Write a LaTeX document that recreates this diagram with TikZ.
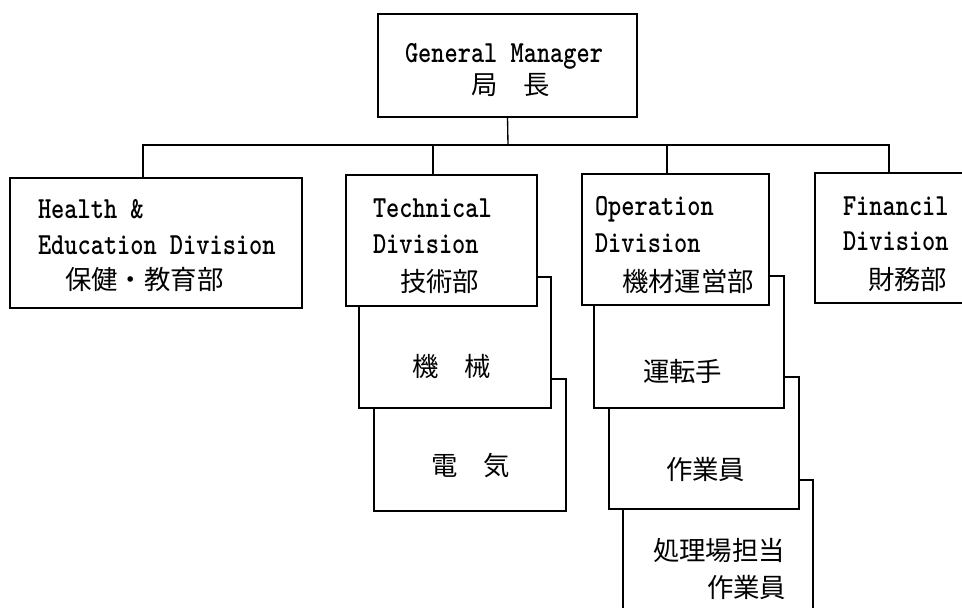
\documentclass[tikz,border=0pt]{standalone}
\usepackage{fontspec}
\usepackage{graphicx}
\usetikzlibrary{calc}
\newfontfamily\cjk{Noto Sans CJK JP}
\newlength\pxu \setlength\pxu{0.75pt}
% box content: width, height (px), lines
\newcommand\tbox[3]{\vbox to #2\pxu{\offinterlineskip\hbox to #1\pxu{\hfil}#3\vss}}
% one line: x offset, baseline offset from top (px), text
\newcommand\tline[3]{\vbox to 0pt{\kern#2\pxu\hbox to 0pt{\kern#1\pxu\smash{#3}\hss}\vss}}
\newcommand\latn[1]{\scalebox{0.82}[1]{\fontsize{23pt}{23pt}\selectfont\ttfamily\bfseries #1}}
\newcommand\jp[1]{{\fontsize{19.8pt}{19.8pt}\selectfont\cjk #1}}
\tikzset{
  orgbox/.style={draw=black, line width=1pt, fill=white, inner sep=0pt, outer sep=0pt, anchor=north west},
  wire/.style={draw=black, line width=1pt}
}
\begin{document}
\begin{tikzpicture}[x=0.75pt, y=-0.75pt]
\path[use as bounding box, clip] (0,0) rectangle (962,607);
\fill[white] (0,0) rectangle (962,607);

% top
\node[orgbox] (gm) at (378,14) {\tbox{259}{103}{\tline{27}{48}{\latn{General Manager}}\tline{93}{80}{\jp{局　長}}}};

% divisions
\node[orgbox] (health) at (10,178) {\tbox{292}{130}{\tline{28}{40}{\latn{Health \&}}\tline{28}{76}{\latn{Education Division}}\tline{55}{111}{\jp{保健・教育部}}}};

% technical stack (back to front)
\node[orgbox] (elec) at (374,379) {\tbox{192}{132}{\tline{57}{96}{\jp{電　気}}}};
\node[orgbox] (mech) at (359,277) {\tbox{192}{131}{\tline{53}{99}{\jp{機　械}}}};
\node[orgbox] (tech) at (346,175) {\tbox{191}{131}{\tline{27}{42}{\latn{Technical}}\tline{27}{78}{\latn{Division}}\tline{54}{116}{\jp{技術部}}}};

% operation stack (back to front)
\node[orgbox] (plant) at (623,480) {\tbox{190}{150}{\tline{30}{80}{\jp{処理場担当}}\tline{84}{117}{\jp{作業員}}}};
\node[orgbox] (worker) at (609,377) {\tbox{190}{132}{\tline{57}{102}{\jp{作業員}}}};
\node[orgbox] (driver) at (594,276) {\tbox{190}{132}{\tline{49}{105}{\jp{運転手}}}};
\node[orgbox] (oper) at (582,174) {\tbox{187}{131}{\tline{13}{41}{\latn{Operation}}\tline{13}{78}{\latn{Division}}\tline{40}{117}{\jp{機材運営部}}}};

% financial
\node[orgbox] (fin) at (815,173) {\tbox{160}{130}{\tline{28}{42}{\latn{Financil}}\tline{28}{77}{\latn{Division}}\tline{53}{116}{\jp{財務部}}}};

% connectors
\coordinate (bus) at (508,145);
\coordinate (hd) at ($(health.north west)+(133,0)$);
\coordinate (td) at ($(tech.north west)+(87,0)$);
\coordinate (od) at ($(oper.north west)+(85,0)$);
\coordinate (fd) at ($(fin.north west)+(74,0)$);
\draw[wire] (gm.south) -- (bus);
\draw[wire] (hd) |- (bus) -| (fd);
\draw[wire] (td) -- (td |- bus);
\draw[wire] (od) -- (od |- bus);
\end{tikzpicture}
\end{document}
